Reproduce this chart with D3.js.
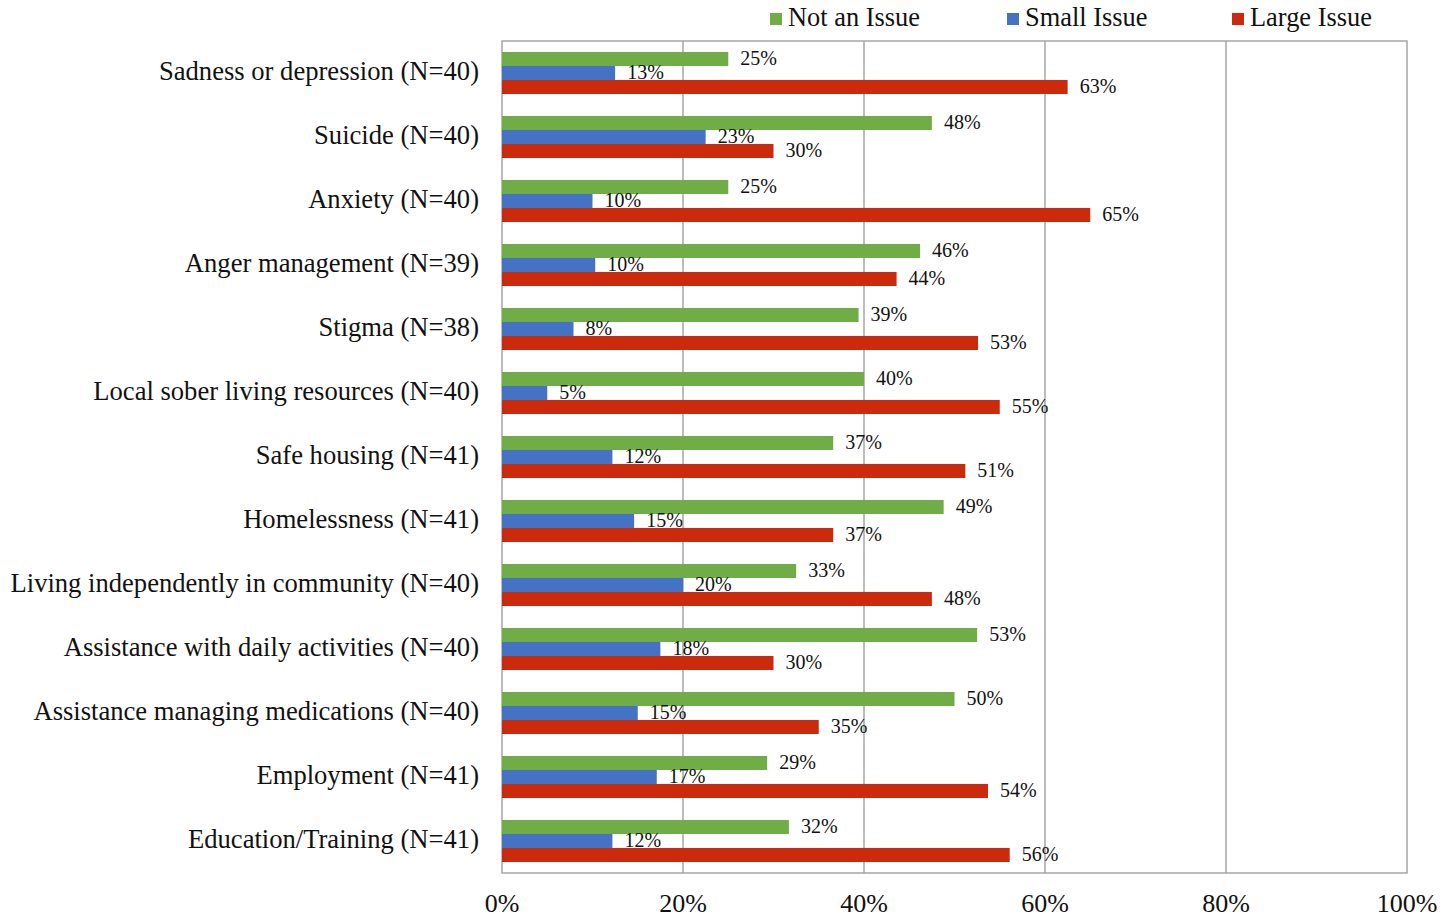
<!DOCTYPE html>
<html>
<head>
<meta charset="utf-8">
<script src="https://cdn.jsdelivr.net/npm/d3@7"></script>
<style>
  body { margin: 0; background: #fff; }
  text { font-family: "Liberation Serif", "Times New Roman", serif; fill: #111; }
</style>
</head>
<body>
<svg id="chart"></svg>
<script>
// categories top to bottom
var categories = [
  "Sadness or depression (N=40)",
  "Suicide (N=40)",
  "Anxiety (N=40)",
  "Anger management (N=39)",
  "Stigma (N=38)",
  "Local sober living resources (N=40)",
  "Safe housing (N=41)",
  "Homelessness (N=41)",
  "Living independently in community (N=40)",
  "Assistance with daily activities (N=40)",
  "Assistance managing medications (N=40)",
  "Employment (N=41)",
  "Education/Training (N=41)"
];

// percentages (labels are rounded)
var notIssue = [25, 47.5, 25, 46.2, 39.4, 40, 36.6, 48.8, 32.5, 52.5, 50, 29.3, 31.7];
var smallIssue = [12.5, 22.5, 10, 10.3, 7.9, 5, 12.2, 14.6, 20, 17.5, 15, 17.1, 12.2];
var largeIssue = [62.5, 30, 65, 43.6, 52.6, 55, 51.2, 36.6, 47.5, 30, 35, 53.7, 56.1];

var seriesNames = ["Not an Issue", "Small Issue", "Large Issue"];
var seriesColors = ["#70ad47", "#4472c4", "#cc2a0c"];
var xTicks = [0, 20, 40, 60, 80, 100];

var svgwidth = 1443, svgheight = 918;
var margin = {top: 41, right: 36, bottom: 45, left: 502};
var width = svgwidth - margin.left - margin.right,
    height = svgheight - margin.top - margin.bottom;

var svg = d3.select("#chart")
  .attr("width", svgwidth)
  .attr("height", svgheight);

var g = svg.append("g")
  .attr("transform", "translate(" + margin.left + "," + margin.top + ")");

var xScale = d3.scaleLinear().domain([0, 100]).range([0, width]);

var yScale = d3.scaleBand()
  .domain(categories)
  .range([0, height]);

var inner = d3.scaleBand()
  .domain(seriesNames)
  .range([yScale.bandwidth() / 2 - 21, yScale.bandwidth() / 2 + 21]);

// grid lines
g.selectAll(".grid")
  .data(xTicks.slice(1, -1))
  .enter()
  .append("line")
  .attr("x1", function(d) { return xScale(d); })
  .attr("x2", function(d) { return xScale(d); })
  .attr("y1", 0)
  .attr("y2", height)
  .attr("stroke", "#a6a6a6")
  .attr("stroke-width", 1.5);

// plot border
g.append("rect")
  .attr("width", width)
  .attr("height", height)
  .attr("fill", "none")
  .attr("stroke", "#a6a6a6")
  .attr("stroke-width", 1.5);

// build rows
var rows = [];
categories.forEach(function(c, i) {
  [notIssue[i], smallIssue[i], largeIssue[i]].forEach(function(v, j) {
    rows.push({cat: c, series: seriesNames[j], color: seriesColors[j], value: v});
  });
});

g.selectAll(".bar")
  .data(rows)
  .enter()
  .append("rect")
  .attr("x", xScale(0))
  .attr("y", function(d) { return yScale(d.cat) + inner(d.series); })
  .attr("width", function(d) { return xScale(d.value) - xScale(0); })
  .attr("height", inner.bandwidth())
  .attr("fill", function(d) { return d.color; });

g.selectAll(".lbl")
  .data(rows)
  .enter()
  .append("text")
  .attr("x", function(d) { return xScale(d.value) + 12; })
  .attr("y", function(d) { return yScale(d.cat) + inner(d.series) + inner.bandwidth() / 2 + 1; })
  .attr("dominant-baseline", "middle")
  .style("font-size", "20px")
  .text(function(d) { return Math.round(d.value) + "%"; });

// category labels
g.selectAll(".cat")
  .data(categories)
  .enter()
  .append("text")
  .attr("x", -23)
  .attr("y", function(d) { return yScale(d) + yScale.bandwidth() / 2 + 1; })
  .attr("text-anchor", "end")
  .attr("dominant-baseline", "middle")
  .style("font-size", "26.6px")
  .text(function(d) { return d; });

// x axis labels
g.selectAll(".tick")
  .data(xTicks)
  .enter()
  .append("text")
  .attr("x", function(d) { return xScale(d); })
  .attr("y", height + 33)
  .attr("text-anchor", "middle")
  .attr("dominant-baseline", "middle")
  .style("font-size", "26px")
  .text(function(d) { return d + "%"; });

// legend
var legendX = [770, 1007, 1232];
var legend = svg.selectAll(".legend")
  .data(seriesNames)
  .enter()
  .append("g")
  .attr("transform", function(d, i) { return "translate(" + legendX[i] + ",19)"; });

legend.append("rect")
  .attr("x", 0)
  .attr("y", -6)
  .attr("width", 12)
  .attr("height", 12)
  .attr("fill", function(d, i) { return seriesColors[i]; });

legend.append("text")
  .attr("x", 18)
  .attr("y", 1)
  .attr("dominant-baseline", "middle")
  .style("font-size", "26.4px")
  .text(function(d) { return d; });
</script>
</body>
</html>
